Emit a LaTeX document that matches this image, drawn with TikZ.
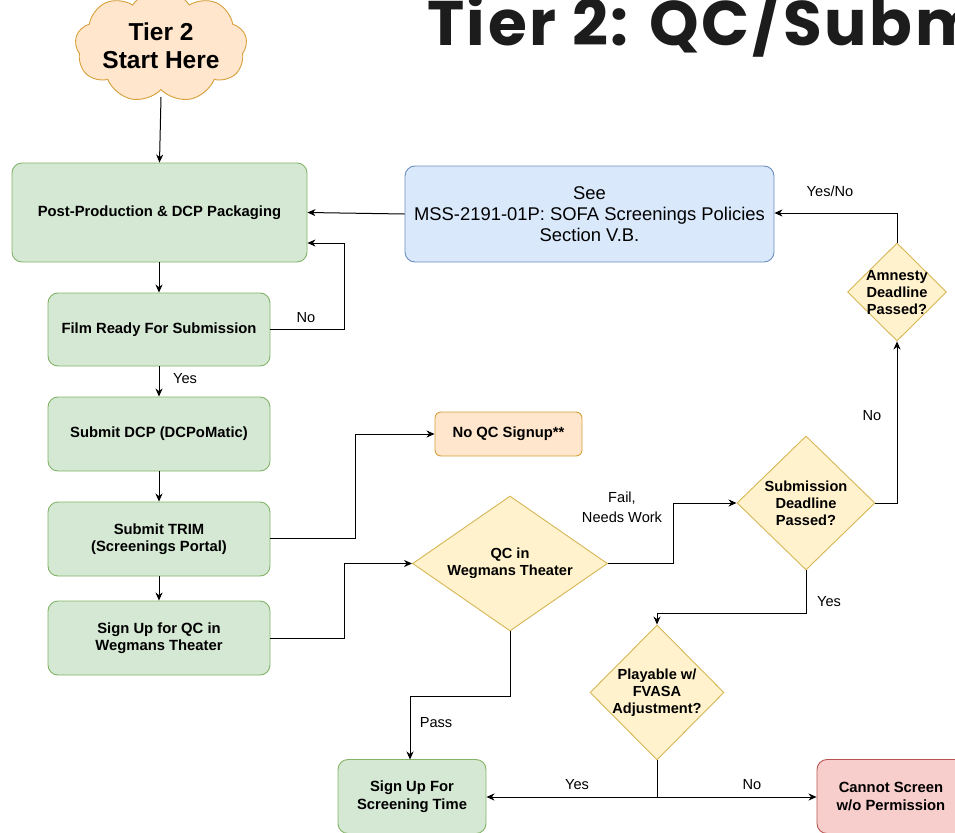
\documentclass[tikz,border=0pt]{standalone}
\usepackage{fontspec}
\setmainfont{Liberation Sans}
\newfontfamily\titlefont{Poppins}[LetterSpace=4]
\usetikzlibrary{shapes.geometric,shapes.symbols,arrows.meta}
\definecolor{gfill}{HTML}{D5E8D4}
\definecolor{gline}{HTML}{82B366}
\definecolor{bfill}{HTML}{DAE8FC}
\definecolor{bline}{HTML}{6C8EBF}
\definecolor{ofill}{HTML}{FFE6CC}
\definecolor{oline}{HTML}{D6A03A}
\definecolor{yfill}{HTML}{FFF2CC}
\definecolor{yline}{HTML}{D6B656}
\definecolor{rfill}{HTML}{F8CECC}
\definecolor{rline}{HTML}{B85450}
\definecolor{titlecol}{HTML}{1C1C1C}
\tikzset{
  box/.style={draw=gline, fill=gfill, rounded corners=10pt, line width=0.9pt, align=center,
    font=\fontsize{14.8}{17.5}\selectfont\bfseries, inner sep=0pt},
  bluebox/.style={draw=bline, fill=bfill, rounded corners=10pt, line width=0.9pt, align=center,
    font=\fontsize{18.4}{21}\selectfont, inner sep=0pt},
  peachbox/.style={draw=oline, fill=ofill, rounded corners=6pt, line width=0.9pt, align=center,
    font=\fontsize{14.8}{17.5}\selectfont\bfseries, inner sep=0pt},
  redbox/.style={draw=rline, fill=rfill, rounded corners=10pt, line width=0.9pt, align=center,
    font=\fontsize{14.8}{17.5}\selectfont\bfseries, inner sep=0pt},
  dia/.style={diamond, draw=yline, fill=yfill, line width=0.9pt, inner sep=0pt},
  dtext/.style={align=center, font=\fontsize{14.6}{17}\selectfont\bfseries, inner sep=0pt},
  lbl/.style={font=\fontsize{14.6}{20}\selectfont, align=center, inner sep=0pt},
  arr/.style={-{Stealth[length=8pt,width=7pt,inset=2.5pt]}, line width=1pt, black},
}
\begin{document}
\begin{tikzpicture}[x=1pt,y=-1pt]
\useasboundingbox (0,0) rectangle (955,832);
\clip (0,0) rectangle (955,832);
% title
\node[anchor=base west, inner sep=0pt, text=titlecol, font=\fontsize{63}{66}\selectfont\titlefont\bfseries] (title) at (427,46) {Tier 2: QC/Submission};
% cloud
\node[cloud, cloud puffs=9, cloud puff arc=115, aspect=1.9, draw=oline, fill=ofill, line width=0.9pt,
  minimum width=160pt, minimum height=84pt, inner sep=0pt, align=center,
  font=\fontsize{24.5}{28}\selectfont\bfseries] (start) at (161,46) {Tier 2\\Start Here};
% boxes
\node[box, minimum width=295pt, minimum height=99pt] (post) at (159.5,212.5) {Post-Production \& DCP Packaging};
\node[bluebox, minimum width=369pt, minimum height=96pt] (see) at (589.5,214) {See\\MSS-2191-01P: SOFA Screenings Policies\\Section V.B.};
\node[box, minimum width=222pt, minimum height=73pt] (ready) at (159,329.5) {Film Ready For Submission};
\node[box, minimum width=222pt, minimum height=74pt] (dcp) at (159,434) {Submit DCP (DCPoMatic)};
\node[box, minimum width=222pt, minimum height=74pt] (trim) at (159,539) {Submit TRIM\\(Screenings Portal)};
\node[box, minimum width=222pt, minimum height=74pt] (signqc) at (159,638) {Sign Up for QC in\\Wegmans Theater};
\node[peachbox, minimum width=147pt, minimum height=44pt] (noqc) at (508.5,434) {No QC Signup**};
\node[box, minimum width=148pt, minimum height=74pt] (signscr) at (412,796.5) {Sign Up For\\Screening Time};
\node[redbox, minimum width=148pt, minimum height=74pt] (cannot) at (891,796.5) {Cannot Screen\\w/o Permission};
% diamonds
\node[dia, minimum width=195pt, minimum height=135pt] (qc) at (510,563.5) {};
\node[dtext] (qct) at (510,563.5) {QC in\\Wegmans Theater};
\node[dia, minimum width=138pt, minimum height=134pt] (sub) at (806,503) {};
\node[dtext] (subt) at (806,503) {Submission\\Deadline\\Passed?};
\node[dia, minimum width=99pt, minimum height=98pt] (amn) at (897,292) {};
\node[dtext] (amnt) at (897,292.5) {Amnesty\\Deadline\\Passed?};
\node[dia, minimum width=134pt, minimum height=135pt] (play) at (657,692.5) {};
\node[dtext] (playt) at (657,692.5) {Playable w/\\FVASA\\Adjustment?};
% connectors
\draw[arr] (start.south |- 0,97) -- (post.north);
\draw[arr] (see.west) -- (post.east);
\draw[arr] (post.south -| ready.north) -- (ready.north);
\draw[arr] (ready.east) -- (344,329.5) -- (344,243) -- (post.east |- 0,243);
\node[lbl] (lno1) at (306,318) {No};
\draw[arr] (ready.south) -- (dcp.north);
\node[lbl] (lyes1) at (185,379) {Yes};
\draw[arr] (dcp.south) -- (trim.north);
\draw[arr] (trim.south) -- (signqc.north);
\draw[arr] (trim.east |- 0,538) -- (355,538) -- (355,434) -- (noqc.west);
\draw[arr] (signqc.east) -- (344,638) -- (344,563.5) -- (qc.west);
\draw[arr] (qc.east) -- (673,563.5) -- (673,503) -- (sub.west);
\node[lbl] (lfail) at (622,507) {Fail,\\Needs Work};
\draw[arr] (sub.east) -- (897,503) -- (amn.south);
\node[lbl] (lno2) at (872,416) {No};
\draw[arr] (amn.north) -- (897,213) -- (see.east |- 0,213);
\node[lbl] (lyesno) at (830,191) {Yes/No};
\draw[arr] (sub.south) -- (806,613) -- (657,613) -- (play.north);
\node[lbl] (lyes2) at (829,602) {Yes};
\coordinate (split) at (657,797);
\draw[line width=1pt] (play.south) -- (split);
\draw[arr] (split) -- (signscr.east |- split);
\draw[arr] (split) -- (cannot.west |- split);
\node[lbl] (lyes3) at (577,785) {Yes};
\node[lbl] (lno3) at (752,785) {No};
\draw[arr] (qc.south) -- (510,696) -- (410,696) -- (410,759.5);
\node[lbl] (lpass) at (436,723) {Pass};
\end{tikzpicture}
\end{document}
